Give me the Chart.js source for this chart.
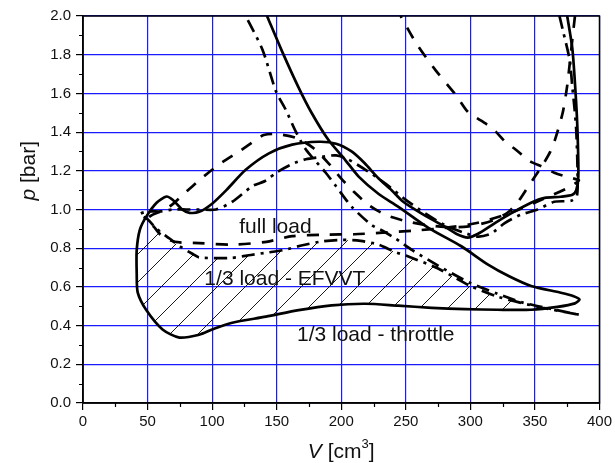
<!DOCTYPE html>
<html>
<head>
<meta charset="utf-8">
<script src="https://cdn.jsdelivr.net/npm/chart.js@4/dist/chart.umd.min.js"></script>
<style>
  body { margin: 0; background: #fff; }
  #wrap { width: 615px; height: 463px; }
</style>
</head>
<body>
<div id="wrap"><canvas id="pv" width="615" height="463"></canvas></div>
<script>
// 1/3 load - throttle (solid)
const throttleV = [375, 379, 381.5, 383, 383.6, 382, 379, 370, 357.6, 347, 331.5, 319, 306, 298, 289, 280.5, 262, 248, 239, 229, 218, 208, 196, 182.6, 162, 144, 126, 111, 100, 90, 82.5, 77, 69.4, 64.7, 57, 49, 44, 41.6, 41.6, 42.4, 49, 61.6, 74.7, 90, 100, 115.6, 141.7, 167, 192.6, 218.8, 244, 270, 296, 321, 347, 367.5, 381, 384.5, 380, 370, 347, 330, 313.7, 293, 267.5, 244, 229, 213.5, 203, 190, 177, 167, 154, 142.5];
const throttleP = [2.0, 1.83, 1.6, 1.4, 1.17, 1.1, 1.076, 1.066, 1.06, 1.035, 0.98, 0.93, 0.875, 0.855, 0.875, 0.91, 0.98, 1.04, 1.10, 1.16, 1.24, 1.30, 1.34, 1.35, 1.335, 1.29, 1.205, 1.10, 1.03, 0.988, 0.983, 0.999, 1.05, 1.067, 1.035, 0.963, 0.895, 0.79, 0.67, 0.57, 0.48, 0.38, 0.338, 0.353, 0.38, 0.415, 0.446, 0.48, 0.505, 0.513, 0.503, 0.492, 0.485, 0.482, 0.482, 0.497, 0.515, 0.535, 0.552, 0.57, 0.605, 0.655, 0.715, 0.81, 0.905, 1.015, 1.08, 1.17, 1.257, 1.36, 1.50, 1.63, 1.82, 2.0];

// 1/3 load - EFVVT (dash-dot)
const efvvtV = [369, 371.5, 377, 379, 380.7, 382, 383, 382.5, 378, 365, 352, 339, 326.6, 316, 306, 295, 280, 265, 250, 235, 220, 205, 196, 182.6, 172.6, 162, 149.5, 141.8, 131, 115.6, 103, 90, 80, 70, 60, 50, 44, 50, 57, 67, 75, 85, 90, 115, 130, 142, 155, 170, 185, 200, 215, 228, 242, 252, 275, 300, 321, 347, 385, 360, 340, 321, 300, 275, 255, 242, 232, 223.5, 208, 196, 188, 172.6, 165, 157, 149.5, 139, 126];
const efvvtP = [2.0, 1.93, 1.77, 1.63, 1.52, 1.41, 1.2, 1.07, 1.045, 1.04, 1.0, 0.973, 0.93, 0.875, 0.86, 0.88, 0.92, 0.98, 1.05, 1.13, 1.2, 1.26, 1.28, 1.27, 1.26, 1.235, 1.19, 1.15, 1.12, 1.04, 1.0, 1.0, 1.0, 1.0, 0.99, 0.99, 0.975, 0.95, 0.9, 0.85, 0.81, 0.77, 0.752, 0.75, 0.765, 0.777, 0.79, 0.815, 0.835, 0.843, 0.838, 0.82, 0.78, 0.757, 0.695, 0.605, 0.55, 0.505, 0.455, 0.49, 0.52, 0.565, 0.62, 0.71, 0.79, 0.85, 0.89, 0.92, 1.015, 1.12, 1.19, 1.31, 1.40, 1.516, 1.61, 1.826, 2.0];

// full load (dashed)
const fullV = [381, 379, 375, 371.5, 366, 362, 356, 350, 344, 338, 330, 320, 305, 295, 280, 265, 250, 235, 222, 210, 200, 190, 178, 165, 150, 140, 134, 121, 108, 98, 88, 78, 68, 60, 53, 50, 55, 60, 68, 75, 90, 115, 142, 162, 188, 210, 232, 255, 280, 305, 330, 355, 375, 384, 380, 374, 365, 356, 346, 335, 327, 317, 308, 298, 289, 273, 258, 246];
const fullP = [2.0, 1.88, 1.64, 1.50, 1.37, 1.30, 1.23, 1.17, 1.11, 1.05, 0.99, 0.95, 0.92, 0.91, 0.91, 0.92, 0.94, 0.97, 1.02, 1.09, 1.16, 1.24, 1.32, 1.37, 1.39, 1.385, 1.36, 1.30, 1.245, 1.195, 1.14, 1.08, 1.02, 0.99, 0.97, 0.95, 0.91, 0.87, 0.84, 0.83, 0.826, 0.818, 0.833, 0.862, 0.87, 0.872, 0.88, 0.89, 0.905, 0.93, 0.98, 1.05, 1.11, 1.15, 1.16, 1.17, 1.19, 1.22, 1.25, 1.31, 1.35, 1.42, 1.46, 1.505, 1.59, 1.72, 1.86, 2.0];

// hatched region between EFVVT and throttle intake lines
const hatchV = [41.8, 44, 48, 52, 57, 67, 75, 85, 90, 115, 130, 142, 155, 170, 185, 200, 215, 228, 242, 252, 275, 300, 321, 340, 347, 321, 296, 270, 244, 218.8, 192.6, 167, 141.7, 115.6, 100, 90, 74.7, 61.6, 49, 42.4, 41.6];
const hatchP = [0.80, 0.88, 0.93, 0.945, 0.90, 0.85, 0.81, 0.77, 0.752, 0.75, 0.765, 0.777, 0.79, 0.815, 0.835, 0.843, 0.838, 0.82, 0.78, 0.757, 0.695, 0.605, 0.55, 0.515, 0.482, 0.482, 0.485, 0.492, 0.503, 0.513, 0.505, 0.48, 0.446, 0.415, 0.38, 0.353, 0.338, 0.38, 0.48, 0.57, 0.67];

// curve labels
const labelText = ['full load', '1/3 load - EFVVT', '1/3 load - throttle'];
const labelV = [121, 94, 165.7];
const labelP = [0.88, 0.611, 0.322];

const xMin = 0, xMax = 400, xMajor = 50, xMinor = 25;
const yMin = 0, yMax = 2.0, yMajor = 0.2, yMinor = 0.1;

function pts(vs, ps) {
  return vs.map((v, i) => ({ x: v, y: ps[i] }));
}

function makeHatch() {
  const s = 28;
  const c = document.createElement('canvas');
  c.width = s; c.height = s;
  const g = c.getContext('2d');
  g.strokeStyle = '#000';
  g.lineWidth = 0.9;
  g.beginPath();
  g.moveTo(0, s); g.lineTo(s, 0);
  g.moveTo(-4, 4); g.lineTo(4, -4);
  g.moveTo(s - 4, s + 4); g.lineTo(s + 4, s - 4);
  g.stroke();
  return g.createPattern(c, 'repeat');
}

const blue = '#1a1aff';
const font = "'Liberation Sans', Arial, sans-serif";

const extras = {
  id: 'extras',
  afterDraw(chart) {
    const { ctx, chartArea: a, scales } = chart;
    ctx.save();
    // frame
    ctx.strokeStyle = '#000';
    ctx.lineWidth = 1.5;
    ctx.strokeRect(a.left, a.top, a.right - a.left, a.bottom - a.top);

    // minor ticks
    ctx.lineWidth = 1.2;
    ctx.beginPath();
    for (let v = xMin + xMinor; v < xMax; v += xMajor) {
      const x = Math.round(scales.x.getPixelForValue(v)) + 0.5;
      ctx.moveTo(x, a.bottom); ctx.lineTo(x, a.bottom + 4);
    }
    for (let v = yMin + yMinor; v < yMax; v += yMajor) {
      const y = Math.round(scales.y.getPixelForValue(v)) + 0.5;
      ctx.moveTo(a.left, y); ctx.lineTo(a.left - 4, y);
    }
    ctx.stroke();

    // curve labels
    ctx.fillStyle = '#111';
    ctx.font = '21px ' + font;
    ctx.textBaseline = 'alphabetic';
    ctx.textAlign = 'left';
    labelText.forEach((t, i) => {
      ctx.fillText(t, scales.x.getPixelForValue(labelV[i]), scales.y.getPixelForValue(labelP[i]));
    });

    // x title: V [cm3]
    const xc = scales.x.getPixelForValue(200);
    const yb = 458;
    ctx.font = 'italic 21px ' + font;
    const w1 = ctx.measureText('V').width;
    ctx.font = '21px ' + font;
    const w2 = ctx.measureText(' [cm').width;
    ctx.font = '13px ' + font;
    const w3 = ctx.measureText('3').width;
    let x0 = xc - (w1 + w2 + w3 + 6) / 2;
    ctx.font = 'italic 21px ' + font;
    ctx.fillText('V', x0, yb); x0 += w1;
    ctx.font = '21px ' + font;
    ctx.fillText(' [cm', x0, yb); x0 += w2;
    ctx.font = '13px ' + font;
    ctx.fillText('3', x0, yb - 10); x0 += w3;
    ctx.font = '21px ' + font;
    ctx.fillText(']', x0, yb);

    // y title: p [bar]
    ctx.translate(35, scales.y.getPixelForValue(1.2));
    ctx.rotate(-Math.PI / 2);
    ctx.font = 'italic 21px ' + font;
    const p1 = ctx.measureText('p').width;
    ctx.font = '21px ' + font;
    const p2 = ctx.measureText(' [bar]').width;
    const px = -(p1 + p2) / 2;
    ctx.font = 'italic 21px ' + font;
    ctx.fillText('p', px, 0);
    ctx.font = '21px ' + font;
    ctx.fillText(' [bar]', px + p1, 0);
    ctx.restore();
  }
};

const lineBase = {
  showLine: true,
  pointRadius: 0,
  borderColor: '#000',
  borderWidth: 2.7,
  tension: 0.25,
  fill: false,
  order: 1
};

new Chart(document.getElementById('pv'), {
  type: 'scatter',
  data: {
    datasets: [
      Object.assign({}, lineBase, { label: '1/3 load - throttle', data: pts(throttleV, throttleP) }),
      Object.assign({}, lineBase, { label: '1/3 load - EFVVT', data: pts(efvvtV, efvvtP), borderDash: [13, 6, 3, 6] }),
      Object.assign({}, lineBase, { label: 'full load', data: pts(fullV, fullP), borderDash: [12, 11] }),
      {
        label: 'hatch',
        data: pts(hatchV, hatchP),
        showLine: true,
        pointRadius: 0,
        borderWidth: 0,
        borderColor: 'rgba(0,0,0,0)',
        backgroundColor: makeHatch(),
        fill: 'shape',
        tension: 0,
        order: 5
      }
    ]
  },
  options: {
    responsive: false,
    animation: false,
    layout: { padding: { top: 16, right: 14, left: 0, bottom: 0 } },
    plugins: { legend: { display: false }, tooltip: { enabled: false } },
    scales: {
      x: {
        type: 'linear',
        min: xMin, max: xMax,
        afterFit: s => { s.height = 60; },
        ticks: {
          stepSize: xMajor, autoSkip: false, maxRotation: 0, padding: 3,
          color: '#111',
          font: { family: font, size: 15 }
        },
        grid: { color: blue, tickColor: '#000', tickLength: 7, lineWidth: 1.2 },
        border: { display: true, color: '#000', width: 1.5 }
      },
      y: {
        type: 'linear',
        min: yMin, max: yMax,
        afterFit: s => { s.width = 83; },
        ticks: {
          stepSize: yMajor, autoSkip: false, padding: 5,
          color: '#111',
          font: { family: font, size: 15 },
          callback: v => v.toFixed(1)
        },
        grid: { color: blue, tickColor: '#000', tickLength: 7, lineWidth: 1.2 },
        border: { display: true, color: '#000', width: 1.5 }
      }
    }
  },
  plugins: [extras]
});
</script>
</body>
</html>
